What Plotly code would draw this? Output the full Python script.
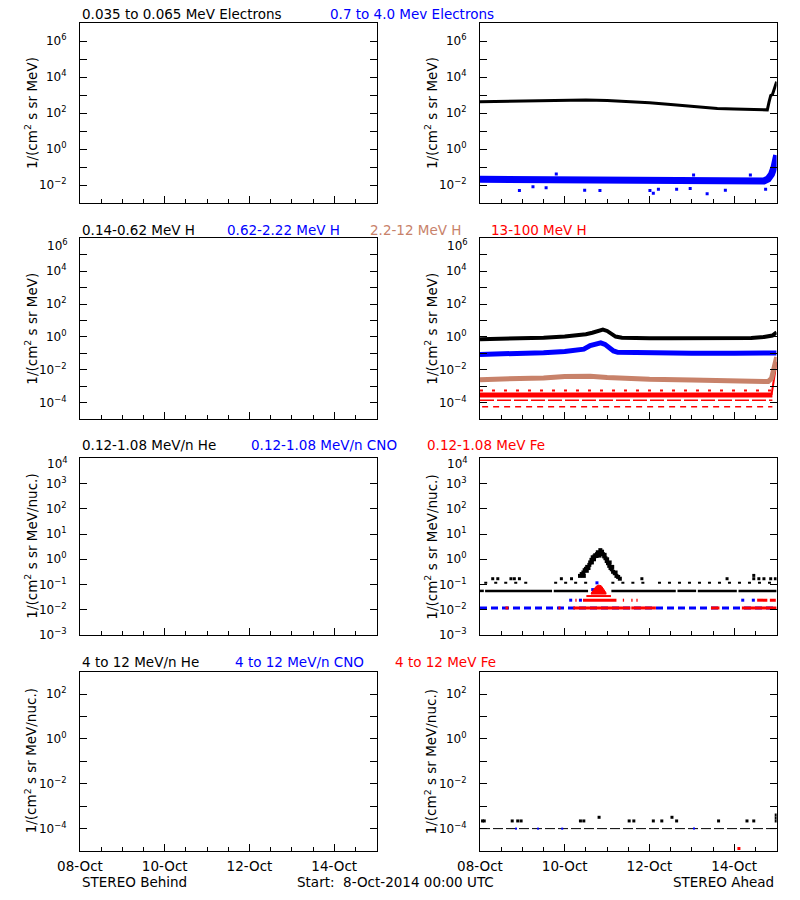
import plotly.graph_objects as go
import pandas as pd

# ---------------- data (days after 2014-10-08 00:00 UTC) ----------------
START = "2014-10-08"

# Row 1: electrons (STEREO Ahead)
e_lo_days = [0.0, 0.5, 1.0, 1.5, 2.0, 2.5, 3.0, 3.5, 4.0, 4.5, 5.0, 5.3, 5.6, 6.0, 6.4, 6.7, 6.78, 6.82, 6.86, 6.9, 6.93, 6.96, 7.0]
e_lo_vals = [425, 450, 480, 510, 525, 525, 505, 440, 370, 300, 240, 200, 180, 170, 165, 160, 150, 400, 950, 1050, 1900, 3000, 5500]
e_hi_days = [0.0, 1.0, 2.0, 3.0, 4.0, 5.0, 6.0, 6.7, 6.8, 6.88, 6.94, 7.0]
e_hi_vals = [0.021, 0.021, 0.020, 0.019, 0.018, 0.018, 0.017, 0.017, 0.022, 0.04, 0.10, 0.45]
e_hi_out_days = [0.93, 2.47, 2.83, 4.01, 4.09, 4.21, 4.64, 5.36, 5.79, 6.74, 1.25, 1.56, 4.96, 1.80, 5.04, 6.38]
e_hi_out_vals = [0.0049, 0.0052, 0.0049, 0.0049, 0.0035, 0.0058, 0.0058, 0.0033, 0.0052, 0.0058, 0.0081, 0.0071, 0.0065, 0.041, 0.036, 0.036]

# Row 2: protons (STEREO Ahead)
h1_days = [0.0, 0.5, 1.0, 1.5, 2.0, 2.3, 2.5, 2.65, 2.8, 2.9, 3.0, 3.1, 3.2, 3.35, 3.6, 4.0, 4.5, 5.0, 5.5, 6.0, 6.4, 6.7, 6.9, 7.0]
h1_vals = [0.72, 0.76, 0.82, 0.9, 1.05, 1.25, 1.45, 1.8, 2.5, 2.8, 2.3, 1.5, 1.05, 0.9, 0.85, 0.82, 0.82, 0.8, 0.8, 0.8, 0.85, 1.0, 1.2, 1.9]
h2_days = [0.0, 0.5, 1.0, 1.5, 2.0, 2.3, 2.45, 2.6, 2.75, 2.85, 2.95, 3.05, 3.15, 3.25, 3.5, 4.0, 5.0, 6.0, 6.5, 7.0]
h2_vals = [0.085, 0.09, 0.1, 0.11, 0.13, 0.15, 0.18, 0.3, 0.4, 0.43, 0.35, 0.22, 0.14, 0.115, 0.11, 0.1, 0.1, 0.1, 0.1, 0.105]
h3_days = [0.0, 0.5, 1.0, 1.5, 2.0, 2.3, 2.6, 3.0, 3.5, 4.0, 5.0, 6.0, 6.5, 6.8, 6.88, 6.94, 7.0]
h3_vals = [2.5e-3, 2.6e-3, 2.8e-3, 3.2e-3, 3.9e-3, 4.3e-3, 4.0e-3, 3.4e-3, 2.9e-3, 2.6e-3, 2.4e-3, 2.2e-3, 2.0e-3, 1.9e-3, 3.0e-3, 0.012, 0.06]
h4_main_days = [0.0, 6.9]
h4_main_vals = [2.9e-4, 2.9e-4]
h4_upper_days = [0.0, 6.9]
h4_upper_vals = [5.5e-4, 5.5e-4]
h4_mid_days = [0.0, 6.9]
h4_mid_vals = [1.4e-4, 1.4e-4]
h4_low_days = [0.05, 6.9]
h4_low_vals = [5.6e-5, 5.6e-5]
h4_rise_days = [6.88, 6.92, 6.96, 7.0]
h4_rise_vals = [3e-4, 1.5e-3, 8e-3, 0.03]

# Row 3: 0.12-1.08 MeV/n heavy ions (STEREO Ahead)
he_base_start = [0.0, 0.12, 1.74, 3.10, 4.66, 5.14, 6.10]
he_base_end = [0.09, 1.70, 2.55, 4.62, 5.10, 6.06, 7.0]
he_base_level = 0.056
he_dot_start = [0.10, 1.75, 3.10, 4.20]
he_dot_end = [1.20, 2.60, 3.90, 7.0]
he_dot_level = 0.117
he_sc_days = [0.30, 0.42, 0.73, 0.81, 0.93, 1.92, 2.16, 3.82, 5.83, 6.46, 6.58, 6.70, 6.86, 6.97, 6.46]
he_sc_vals = [0.17, 0.17, 0.17, 0.17, 0.17, 0.17, 0.17, 0.17, 0.17, 0.17, 0.17, 0.17, 0.17, 0.17, 0.23]
he_peak_days = [2.36, 2.40, 2.44, 2.45, 2.47, 2.50, 2.52, 2.53, 2.56, 2.58, 2.60, 2.63, 2.64, 2.66, 2.69, 2.70, 2.72, 2.75, 2.76,
                2.78, 2.81, 2.82, 2.84, 2.87, 2.88, 2.90, 2.93, 2.94, 2.96, 2.99, 3.00, 3.02, 3.05, 3.06, 3.08, 3.11, 3.12,
                3.14, 3.18, 3.20, 3.22, 3.26, 3.30]
he_peak_vals = [0.22, 0.26, 0.30, 0.22, 0.37, 0.42, 0.35, 0.50, 0.45, 0.60, 0.75, 0.95, 0.75, 1.2, 1.0, 1.3, 1.45, 1.35, 1.6,
                1.9, 1.7, 1.4, 2.3, 1.8, 2.0, 1.6, 1.3, 1.5, 1.1, 0.85, 1.0, 0.7, 0.55, 0.75, 0.45, 0.4, 0.5,
                0.32, 0.28, 0.30, 0.22, 0.20, 0.17]
cno_low_days = [0.0, 7.0]
cno_low_vals = [0.0118, 0.0118]
fe_low_start = [0.60, 1.85, 2.20, 3.57, 5.45, 6.18]
fe_low_end = [0.67, 1.90, 3.55, 4.15, 5.65, 7.0]
fe_low_level = 0.0118
cno_mid_days = [2.14, 2.37, 6.20, 6.45, 2.76, 2.66]
cno_mid_vals = [0.024, 0.024, 0.024, 0.024, 0.117, 0.063]
fe_mid_start = [2.25, 2.43, 3.37, 3.57, 3.69, 6.54, 6.84]
fe_mid_end = [2.28, 3.22, 3.40, 3.60, 3.72, 6.78, 6.98]
fe_mid_level = 0.024
fe_bar_days = [2.51, 3.09]
fe_bar_vals = [0.035, 0.035]
fe_peak_days = [2.62, 2.68, 2.74, 2.80, 2.86, 2.92, 2.98]
fe_peak_vals = [0.045, 0.062, 0.085, 0.095, 0.090, 0.065, 0.045]
fe_peak_base = [0.042, 0.042, 0.042, 0.042, 0.042, 0.042, 0.042]

# Row 4: 4-12 MeV/n heavy ions (STEREO Ahead)
he4_line_days = [0.0, 7.0]
he4_line_vals = [1e-4, 1e-4]
he4_pt_days = [0.06, 0.10, 0.76, 0.89, 0.97, 2.37, 2.45, 3.52, 3.63, 4.09, 4.29, 4.64, 5.63, 6.30, 6.46, 6.99, 2.81, 4.53, 6.99, 6.99]
he4_pt_vals = [2.2e-4, 2.2e-4, 2.2e-4, 2.2e-4, 2.2e-4, 2.2e-4, 2.2e-4, 2.2e-4, 2.2e-4, 2.2e-4, 2.2e-4, 2.2e-4, 2.2e-4, 2.2e-4,
               2.2e-4, 2.2e-4, 3.2e-4, 3.2e-4, 3.0e-4, 4.0e-4]
cno4_days = [0.85, 1.37, 1.94, 5.05]
cno4_vals = [1e-4, 1e-4, 1e-4, 1e-4]
fe4_days = [6.11]
fe4_vals = [1.3e-5]

# Axis configuration
row_ranges = [(-3, 7), (-5, 6), (-3, 4), (-5, 3)]
row_label_every = [2, 2, 1, 2]
row_domains = [(0.7744, 0.9744), (0.5344, 0.7352), (0.2944, 0.4908), (0.0544, 0.2537)]
col_domains = [(0.1, 0.4708), (0.6, 0.9708)]
ytitles = ["1/(cm<sup>2</sup> s sr MeV)", "1/(cm<sup>2</sup> s sr MeV)",
           "1/(cm<sup>2</sup> s sr MeV/nuc.)", "1/(cm<sup>2</sup> s sr MeV/nuc.)"]
row_titles = [
    [("0.035 to 0.065 MeV Electrons", "#000000", 80), ("0.7 to 4.0 Mev Electrons", "#0000ff", 328)],
    [("0.14-0.62 MeV H", "#000000", 80), ("0.62-2.22 MeV H", "#0000ff", 225),
     ("2.2-12 MeV H", "#c8826a", 368), ("13-100 MeV H", "#ff0000", 489)],
    [("0.12-1.08 MeV/n He", "#000000", 80), ("0.12-1.08 MeV/n CNO", "#0000ff", 249),
     ("0.12-1.08 MeV Fe", "#ff0000", 425)],
    [("4 to 12 MeV/n He", "#000000", 80), ("4 to 12 MeV/n CNO", "#0000ff", 233),
     ("4 to 12 MeV Fe", "#ff0000", 393)],
]
title_y_px = [13.5, 229.5, 445, 662]
# the top tick labels of rows 2 and 3 sit a little below the frame in the reference
top_label_y_px = {1: 245, 2: 463}

FONT = "DejaVu Sans"
FS = 13.5
TFS = 12
W, H = 800, 900

base = pd.Timestamp(START)
x_lo = base.strftime("%Y-%m-%d %H:%M:%S")
x_hi = (base + pd.Timedelta(days=7)).strftime("%Y-%m-%d %H:%M:%S")


def tx(days):
    return [None if d is None else (base + pd.Timedelta(days=d)).strftime("%Y-%m-%d %H:%M:%S") for d in days]


def segs(starts, ends, level):
    xs, ys = [], []
    for a, b in zip(starts, ends):
        xs += [a, b, None]
        ys += [level, level, None]
    return xs, ys


fig = go.Figure()


def ax(p):
    return ("x" if p == 1 else f"x{p}"), ("y" if p == 1 else f"y{p}")


def add(p, days, vals, color, mode="lines", width=2, dash="solid", size=3, fill=None, symbol="square"):
    xa, ya = ax(p)
    kw = dict(x=tx(days), y=vals, mode=mode, xaxis=xa, yaxis=ya,
              showlegend=False, hoverinfo="skip", connectgaps=False)
    if "lines" in mode:
        kw["line"] = dict(color=color, width=width, dash=dash)
    if "markers" in mode:
        kw["marker"] = dict(color=color, size=size, symbol=symbol, line=dict(width=0))
    if fill:
        kw["fill"] = fill
        kw["fillcolor"] = color
    fig.add_trace(go.Scatter(**kw))


# empty (STEREO Behind) panels still get a subplot
for p in (1, 3, 5, 7):
    xa, ya = ax(p)
    fig.add_trace(go.Scatter(x=[], y=[], xaxis=xa, yaxis=ya, mode="lines", showlegend=False, hoverinfo="skip"))

# Row 1
add(2, e_lo_days, e_lo_vals, "#000000", width=3)
add(2, e_hi_days, e_hi_vals, "#0000ff", width=7)
add(2, e_hi_out_days, e_hi_out_vals, "#0000ff", mode="markers", size=3)
# Row 2
add(4, h4_low_days, h4_low_vals, "#ff0000", width=1.5, dash="6px,5px")
add(4, h4_mid_days, h4_mid_vals, "#ff0000", width=1.5, dash="14px,3px")
add(4, h4_upper_days, h4_upper_vals, "#ff0000", width=2, dash="3px,9px")
add(4, h4_main_days, h4_main_vals, "#ff0000", width=5)
add(4, h4_rise_days, h4_rise_vals, "#ff0000", width=2)
add(4, h3_days, h3_vals, "#c8826a", width=5)
add(4, h2_days, h2_vals, "#0000ff", width=5)
add(4, h1_days, h1_vals, "#000000", width=4)
# Row 3
x, y = segs(he_dot_start, he_dot_end, he_dot_level)
add(6, x, y, "#000000", width=2, dash="3px,7px")
add(6, he_sc_days, he_sc_vals, "#000000", mode="markers", size=3)
x, y = segs(he_base_start, he_base_end, he_base_level)
add(6, x, y, "#000000", width=2.5)
add(6, he_peak_days, he_peak_vals, "#000000", mode="markers", size=4)
add(6, cno_low_days, cno_low_vals, "#0000ff", width=3, dash="7px,4px")
x, y = segs(fe_low_start, fe_low_end, fe_low_level)
add(6, x, y, "#ff0000", width=3)
x, y = segs(fe_mid_start, fe_mid_end, fe_mid_level)
add(6, x, y, "#ff0000", width=3)
add(6, cno_mid_days, cno_mid_vals, "#0000ff", mode="markers", size=3)
add(6, fe_bar_days, fe_bar_vals, "#ff0000", width=2)
add(6, fe_peak_days, fe_peak_base, "#ff0000", width=1)
add(6, fe_peak_days, fe_peak_vals, "#ff0000", width=1, fill="tonexty")
# Row 4
add(8, he4_line_days, he4_line_vals, "#000000", width=1, dash="10px,3px")
add(8, cno4_days, cno4_vals, "#0000ff", mode="markers", size=2)
add(8, he4_pt_days, he4_pt_vals, "#000000", mode="markers", size=3)
add(8, fe4_days, fe4_vals, "#ff0000", mode="markers", size=3)

layout = dict(width=W, height=H, autosize=False,
              margin=dict(l=0, r=0, t=0, b=0, pad=0, autoexpand=False),
              paper_bgcolor="white", plot_bgcolor="white",
              font=dict(family=FONT, size=FS, color="black"), showlegend=False)


def sup(k):
    return "10<sup>" + str(k).replace("-", "\u2212") + "</sup>"


annotations = []
for r in range(4):
    lo, hi = row_ranges[r]
    tv = [10.0 ** k for k in range(lo, hi + 1)]
    tt = []
    for k in range(lo, hi + 1):
        if k % row_label_every[r] == 0 and not (r in top_label_y_px and k == hi):
            tt.append(sup(k))
        else:
            tt.append("")
    for c in range(2):
        p = 2 * r + c + 1
        xa, ya = ax(p)
        sfx = "" if p == 1 else str(p)
        layout["xaxis" + sfx] = dict(
            domain=list(col_domains[c]), anchor=ya,
            type="date", range=[x_lo, x_hi], autorange=False,
            tick0=x_lo, dtick=2 * 86400000, tickformat="%d-%b",
            ticks="inside", ticklen=7, tickwidth=1, tickcolor="black",
            minor=dict(dtick=43200000, tick0=x_lo, ticks="inside", ticklen=4, tickwidth=1,
                       tickcolor="black", showgrid=False),
            showline=True, linecolor="black", linewidth=1, mirror=True,
            showgrid=False, zeroline=False, showticklabels=(r == 3), automargin=False,
            ticklabelstandoff=3, tickfont=dict(size=FS, family=FONT),
        )
        layout["yaxis" + sfx] = dict(
            domain=list(row_domains[r]), anchor=xa,
            type="log", range=[lo, hi], autorange=False, tickmode="array", tickvals=tv, ticktext=tt,
            ticks="inside", ticklen=7, tickwidth=1, tickcolor="black",
            showline=True, linecolor="black", linewidth=1, mirror="ticks",
            showgrid=False, zeroline=False, ticklabelstandoff=10, automargin=False,
            tickfont=dict(size=TFS, family=FONT),
        )
        annotations.append(dict(
            text=ytitles[r], xref="paper", yref="paper",
            x=(31 + 400 * c) / W, y=sum(row_domains[r]) / 2,
            textangle=-90, showarrow=False, xanchor="center", yanchor="middle",
            font=dict(size=FS, family=FONT, color="black")))
        if r in top_label_y_px:
            annotations.append(dict(
                text=sup(hi), xref="paper", yref="paper",
                x=(70 + 400 * c) / W, y=1 - top_label_y_px[r] / H,
                showarrow=False, xanchor="right", yanchor="middle",
                font=dict(size=TFS, family=FONT, color="black")))
    for txt, col, xp in row_titles[r]:
        annotations.append(dict(
            text=txt, xref="paper", yref="paper", x=xp / W, y=1 - title_y_px[r] / H,
            showarrow=False, xanchor="left", yanchor="middle",
            font=dict(size=FS, family=FONT, color=col)))

annotations.append(dict(text="STEREO Behind", xref="paper", yref="paper", x=80 / W, y=1 - 882 / H,
                        showarrow=False, xanchor="left", yanchor="middle"))
annotations.append(dict(text="Start:\u00a0\u00a08-Oct-2014 00:00 UTC", xref="paper", yref="paper", x=295 / W,
                        y=1 - 882 / H, showarrow=False, xanchor="left", yanchor="middle"))
annotations.append(dict(text="STEREO Ahead", xref="paper", yref="paper", x=776 / W, y=1 - 882 / H,
                        showarrow=False, xanchor="right", yanchor="middle"))
layout["annotations"] = annotations

fig.update_layout(**layout)
fig.write_html("out.html", config={"displayModeBar": False},
               post_script="document.body.style.margin='0';document.body.style.overflow='hidden';")
